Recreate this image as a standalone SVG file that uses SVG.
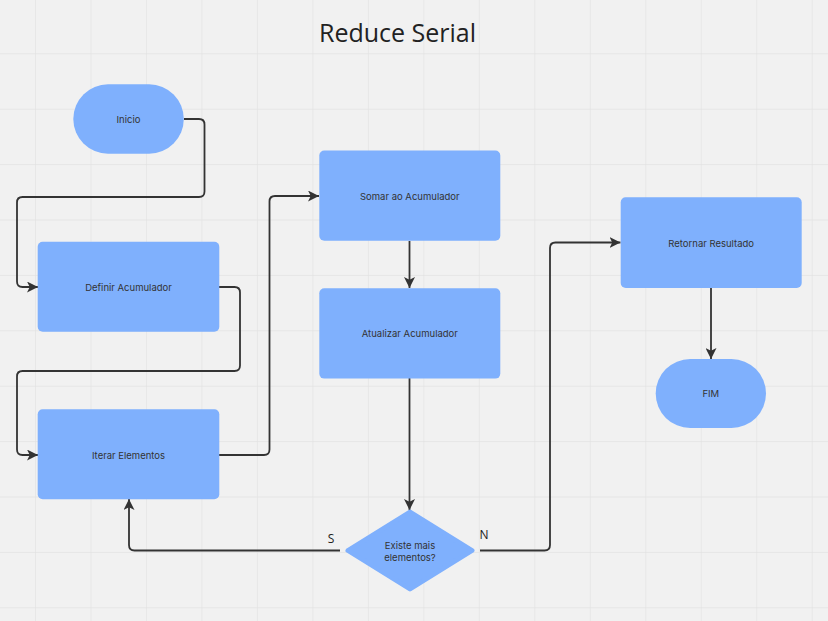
<svg xmlns="http://www.w3.org/2000/svg" width="828" height="621" viewBox="0 0 828 621">
<style>
.node{fill:#7fb0fd}
.lbl{font-family:Inter,"Open Sans",sans-serif;font-size:9.5px;fill:#333;text-anchor:middle;dominant-baseline:central}
.edge{fill:none;stroke:#333;stroke-width:1.8;stroke-linejoin:round}
.grid{stroke:#e2e2e2;stroke-width:1.3}
.el{font-family:"Open Sans",sans-serif;font-size:12px;fill:#222}
</style>
<defs>
<marker id="ah" viewBox="0 0 10 10" refX="10" refY="5" markerWidth="11" markerHeight="11" markerUnits="userSpaceOnUse" orient="auto">
<path d="M0,0 L10,5 L0,10 L2.5,5 Z" fill="#333"/>
</marker>
<pattern id="gp" x="35" y="-2.1" width="55.48" height="55.4" patternUnits="userSpaceOnUse">
<path d="M0,0 V55.4 M0,0 H55.48" class="grid"/>
</pattern>
</defs>
<rect width="828" height="621" fill="#f1f1f1"/>
<rect width="828" height="621" fill="url(#gp)"/>
<text x="397.5" y="42.3" font-family="'Open Sans',sans-serif" font-size="25" fill="#222" text-anchor="middle">Reduce Serial</text>
<g id="connectors">
<path class="edge" marker-end="url(#ah)" d="M184,119 H199 Q204.5,119 204.5,124.5 V191.5 Q204.5,197 199,197 H22.5 Q17,197 17,202.5 V281.5 Q17,287 22.5,287 H38"/>
<path class="edge" marker-end="url(#ah)" d="M219,287 H234.5 Q240,287 240,292.5 V365.5 Q240,371 234.5,371 H22.5 Q17,371 17,376.5 V449.5 Q17,455 22.5,455 H38"/>
<path class="edge" marker-end="url(#ah)" d="M219,455 H264 Q269.5,455 269.5,449.5 V201.5 Q269.5,196 275,196 H319"/>
<path class="edge" marker-end="url(#ah)" d="M409.5,241 V288"/>
<path class="edge" marker-end="url(#ah)" d="M409.5,378 V510"/>
<path class="edge" marker-end="url(#ah)" d="M340,550.5 H134.5 Q129,550.5 129,545 V499"/>
<path class="edge" marker-end="url(#ah)" d="M480,550.5 H544.5 Q550,550.5 550,545 V248 Q550,242.5 555.5,242.5 H620.5"/>
<path class="edge" marker-end="url(#ah)" d="M711,288 V359"/>
<text class="el" x="331" y="543" text-anchor="middle">S</text>
<text class="el" x="484" y="539" text-anchor="middle">N</text>
</g>
<g id="inicio">
<rect class="node" x="73.3" y="84.3" width="110.5" height="69.4" rx="34.7"/>
<text class="lbl" x="128.5" y="119">Inicio</text>
</g>
<g id="definir">
<rect class="node" x="37.7" y="241.7" width="181.6" height="90" rx="5"/>
<text class="lbl" x="128.5" y="287">Definir Acumulador</text>
</g>
<g id="iterar">
<rect class="node" x="37.7" y="409.3" width="181.6" height="90" rx="5"/>
<text class="lbl" x="128.5" y="455">Iterar Elementos</text>
</g>
<g id="somar">
<rect class="node" x="319.3" y="150.5" width="181" height="90.3" rx="5"/>
<text class="lbl" x="409.8" y="196">Somar ao Acumulador</text>
</g>
<g id="atualizar">
<rect class="node" x="319.3" y="288.3" width="181" height="90.3" rx="5"/>
<text class="lbl" x="409.8" y="333.5">Atualizar Acumulador</text>
</g>
<g id="decisao">
<path class="node" d="M410,512 L472,550.5 L410,589 L348,550.5 Z" stroke="#7fb0fd" stroke-width="5" stroke-linejoin="round"/>
<text class="lbl" x="410" y="545">Existe mais</text>
<text class="lbl" x="410" y="557">elementos?</text>
</g>
<g id="retornar">
<rect class="node" x="620.7" y="197.3" width="181" height="90.7" rx="5"/>
<text class="lbl" x="711.2" y="243">Retornar Resultado</text>
</g>
<g id="fim">
<rect class="node" x="655.7" y="359" width="110.3" height="69" rx="34.5"/>
<text class="lbl" x="710.8" y="393.5">FIM</text>
</g>
</svg>
